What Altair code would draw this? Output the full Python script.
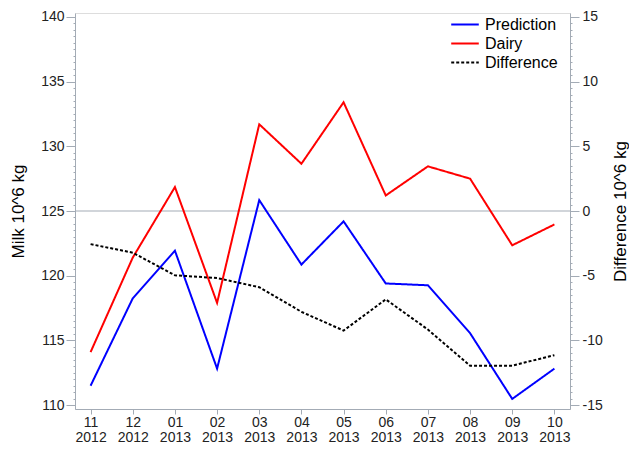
import altair as alt
import pandas as pd

months = ["11", "12", "01", "02", "03", "04", "05", "06", "07", "08", "09", "10"]
years = ["2012", "2012", "2013", "2013", "2013", "2013", "2013", "2013", "2013", "2013", "2013", "2013"]
prediction = [111.5, 118.25, 121.93, 112.82, 125.84, 120.86, 124.2, 119.4, 119.26, 115.56, 110.48, 112.82]
dairy = [114.1, 121.4, 126.85, 117.9, 131.7, 128.65, 133.4, 126.2, 128.45, 127.5, 122.35, 123.96]
difference = [-2.56, -3.22, -4.97, -5.18, -5.89, -7.79, -9.24, -6.83, -9.16, -11.95, -11.95, -11.14]
series_names = ["Prediction", "Dairy", "Difference"]
series_colors = ["#0000ff", "#ff0000", "#000000"]
series_dash = [[1, 0], [1, 0], [3, 2]]
left_ticks = [110 + 0.5 * i for i in range(61)]
right_ticks = [-15 + 0.5 * i for i in range(61)]

labels = [f"{m} {y}" for m, y in zip(months, years)]
rows = []
for name, vals in zip(series_names, [prediction, dairy, difference]):
    for lab, v in zip(labels, vals):
        rows.append({"label": lab, "series": name, "value": v})
df = pd.DataFrame(rows)

GRAY = "#a3abb5"
FONT = "Liberation Sans"

legend = alt.Legend(
    title=None, orient="none", legendX=375, legendY=2, symbolType="stroke",
    symbolSize=760, symbolStrokeWidth=2, labelFontSize=16, labelFont=FONT,
    labelColor="#000000", labelOffset=5, rowPadding=0, clipHeight=19, padding=0,
)

x = alt.X("label:O", sort=labels, title=None,
          scale=alt.Scale(type="point", padding=0.37),
          axis=alt.Axis(labelExpr="split(datum.label, ' ')", labelAngle=0,
                        labelFontSize=14, labelFont=FONT, labelColor="#222222",
                        labelLineHeight=15.5, tickSize=5, labelPadding=1,
                        domainColor=GRAY, tickColor=GRAY, grid=False))
color = alt.Color("series:N", scale=alt.Scale(domain=series_names, range=series_colors), legend=legend)
dash = alt.StrokeDash("series:N", scale=alt.Scale(domain=series_names, range=series_dash), legend=legend)

left_axis = alt.Axis(
    values=left_ticks, orient="left", grid=False,
    labelExpr="datum.value % 5 === 0 ? toString(datum.value) : ''",
    tickSize={"condition": {"test": "datum.value % 5 === 0", "value": 9}, "value": 2},
    labelFontSize=14, labelFont=FONT, labelColor="#222222", labelPadding=2,
    domainColor=GRAY, tickColor=GRAY,
    title="Milk 10^6 kg", titleFontSize=17, titleFont=FONT, titleFontWeight="normal",
    titleColor="#000000", titleX=-57, titleY=198, titleAngle=270,
    titleAlign="center", titleBaseline="middle",
)
right_axis = alt.Axis(
    values=right_ticks, orient="right", grid=False,
    labelExpr="datum.value % 5 === 0 ? toString(datum.value) : ''",
    tickSize={"condition": {"test": "datum.value % 5 === 0", "value": 9}, "value": 2},
    labelFontSize=14, labelFont=FONT, labelColor="#222222", labelPadding=3,
    domainColor=GRAY, tickColor=GRAY,
    title="Difference 10^6 kg", titleFontSize=17, titleFont=FONT, titleFontWeight="normal",
    titleColor="#000000", titleX=50, titleY=198, titleAngle=270,
    titleAlign="center", titleBaseline="middle",
)

base = alt.Chart(df)
rule = alt.Chart(pd.DataFrame({"zero": [125]})).mark_rule(color=GRAY, strokeWidth=1).encode(
    y=alt.Y("zero:Q", scale=alt.Scale(domain=[109.7, 140.3], nice=False, zero=False), axis=left_axis)
)
milk = base.transform_filter(
    alt.FieldOneOfPredicate(field="series", oneOf=["Prediction", "Dairy"])
).mark_line(strokeWidth=2).encode(
    x=x,
    y=alt.Y("value:Q", scale=alt.Scale(domain=[109.7, 140.3], nice=False, zero=False), axis=left_axis),
    color=color, strokeDash=dash,
)
diff = base.transform_filter(
    alt.FieldEqualPredicate(field="series", equal="Difference")
).mark_line(strokeWidth=2).encode(
    x=x,
    y=alt.Y("value:Q", scale=alt.Scale(domain=[-15.3, 15.3], nice=False, zero=False), axis=right_axis),
    color=color, strokeDash=dash,
)

left_layer = alt.layer(rule, milk)
chart = alt.layer(left_layer, diff).resolve_scale(y="independent").properties(
    width=495, height=396,
    autosize=alt.AutoSizeParams(type="none"),
    padding={"left": 67, "top": 5, "right": 59, "bottom": 38},
).configure_view(stroke=GRAY, strokeWidth=1).configure(background="white")

chart.save("out.html", embed_options={"renderer": "svg", "actions": False})
